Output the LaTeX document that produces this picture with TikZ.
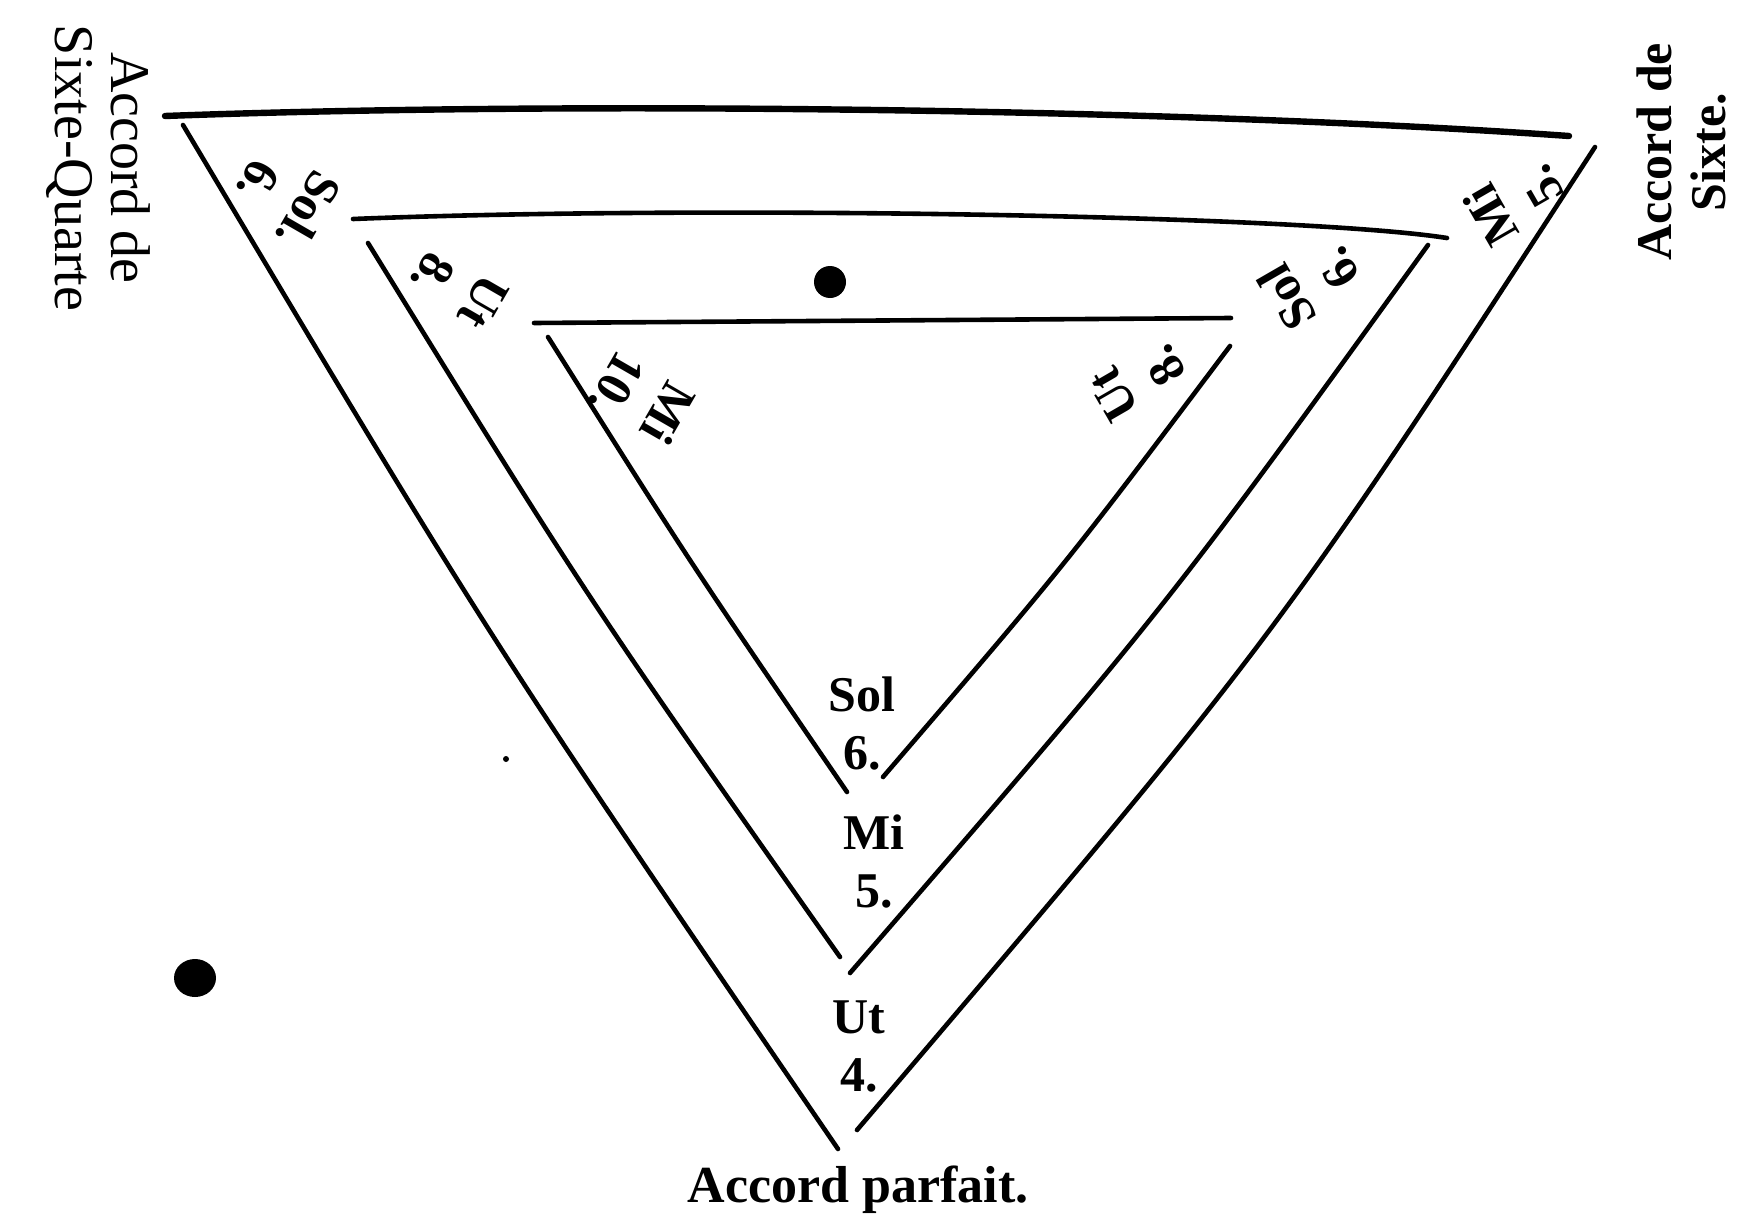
\documentclass[tikz,border=0pt]{standalone}
\usepackage{fontspec}
\setmainfont{Liberation Serif}
\begin{document}
\begin{tikzpicture}[x=0.5pt,y=-0.5pt,
  edge/.style={line width=2.3pt,line cap=round},
  topedge/.style={line width=3.2pt,line cap=round},
  lbl/.style={font=\fontsize{25}{29}\selectfont\bfseries,align=center,inner sep=0pt},
  cornertxt/.style={font=\fontsize{28}{28}\selectfont,align=center,inner sep=0pt},
  cornertxtb/.style={font=\fontsize{25}{27}\selectfont\bfseries,align=center,inner sep=0pt},
  titletxt/.style={font=\fontsize{26}{30}\selectfont\bfseries,inner sep=0pt}]
\useasboundingbox[fill=white] (0,0) rectangle (1763,1231);
% outer triangle
\coordinate (oTL) at (165,116);
\coordinate (oTR) at (1569,136);
\coordinate (oLs) at (183,125);
\coordinate (oLe) at (838,1149);
\coordinate (oLc) at (488,637);
\coordinate (oRs) at (1595,147);
\coordinate (oRe) at (857,1130);
\coordinate (oRc) at (1276,638);
% middle triangle
\coordinate (mTL) at (353,219);
\coordinate (mTR) at (1447,238);
\coordinate (mLs) at (368,243);
\coordinate (mLe) at (840,957);
\coordinate (mLc) at (587,598);
\coordinate (mRs) at (1428,245);
\coordinate (mRe) at (850,973);
\coordinate (mRc) at (1165,609);
% inner triangle
\coordinate (iTL) at (534,323);
\coordinate (iTR) at (1231,318);
\coordinate (iLs) at (548,337);
\coordinate (iLe) at (847,792);
\coordinate (iLc) at (691,564);
\coordinate (iRs) at (1230,346);
\coordinate (iRe) at (883,777);
\coordinate (iRc) at (1066,564);

\draw[topedge] (oTL) .. controls (600,100) and (1200,110) .. (oTR);
\draw[edge] (oLs) .. controls (oLc) .. (oLe);
\draw[edge] (oRs) .. controls (oRc) .. (oRe);
\draw[edge] (mTL) .. controls (700,205) and (1300,215) .. (mTR);
\draw[edge] (mLs) .. controls (mLc) .. (mLe);
\draw[edge] (mRs) .. controls (mRc) .. (mRe);
\draw[edge] (iTL) -- (iTR);
\draw[edge] (iLs) .. controls (iLc) .. (iLe);
\draw[edge] (iRs) .. controls (iRc) .. (iRe);

% ink blots
\fill (830,282) circle[radius=16];
\fill (195,978) ellipse[x radius=21,y radius=19];
\fill (506,759) circle[radius=3];

% corner labels
\node[lbl,rotate=-120] (tlOut) at (284,196) {Sol.\\6.};
\node[lbl,rotate=120] (trOut) at (1516,201) {Mi\\5.};
\node[lbl,rotate=-120] (tlMid) at (458,288) {Ut\\8.};
\node[lbl,rotate=120] (trMid) at (1312,283) {Sol\\6.};
\node[lbl,rotate=-120] (tlIn) at (643,399) {Mi\\10.};
\node[lbl,rotate=120] (trIn) at (1139,380) {Ut\\8.};
\node[lbl] (bIn) at (862,724) {Sol\\6.};
\node[lbl] (bMid) at (874,861) {Mi\\5.};
\node[lbl] (bOut) at (859,1046) {Ut\\4.};

% chord names
\node[cornertxt,rotate=-90] (tlTxt) at (98,168) {Accord de\\Sixte-Quarte};
\node[cornertxtb,rotate=90] (trTxt) at (1681,152) {Accord de\\Sixte.};
\node[titletxt,anchor=base] (botTxt) at (858,1202) {Accord parfait.};
\end{tikzpicture}
\end{document}
